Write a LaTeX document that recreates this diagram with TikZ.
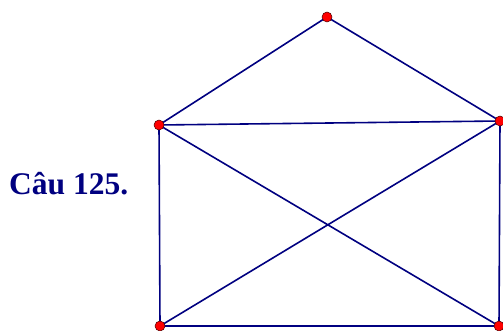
\documentclass[tikz,border=0pt]{standalone}
\usepackage{fontspec}
\setmainfont{Liberation Serif}
\definecolor{navy}{RGB}{0,0,128}
\begin{document}
\begin{tikzpicture}[x=1pt,y=-1pt,
  edge/.style={draw=navy,line width=1.6pt},
  pt/.style={circle,fill=red,draw=black!70!red,line width=0.5pt,inner sep=0pt,minimum size=10pt}]
\useasboundingbox (0,0) rectangle (503,331);
\node[anchor=base west,text=navy,font=\bfseries\fontsize{31.5}{36}\selectfont,inner sep=0pt] (t) at (9,194) {Câu 125.};
\coordinate (A) at (327,17);
\coordinate (B) at (159,125);
\coordinate (C) at (500,121);
\coordinate (D) at (160,326);
\coordinate (E) at (499,326);
\draw[edge] (A) -- (B) (A) -- (C) (B) -- (C) (B) -- (D) (C) -- (E) (D) -- (E) (B) -- (E) (C) -- (D);
\foreach \p in {A,B,C,D,E} \node[pt] at (\p) {};
\end{tikzpicture}
\end{document}
